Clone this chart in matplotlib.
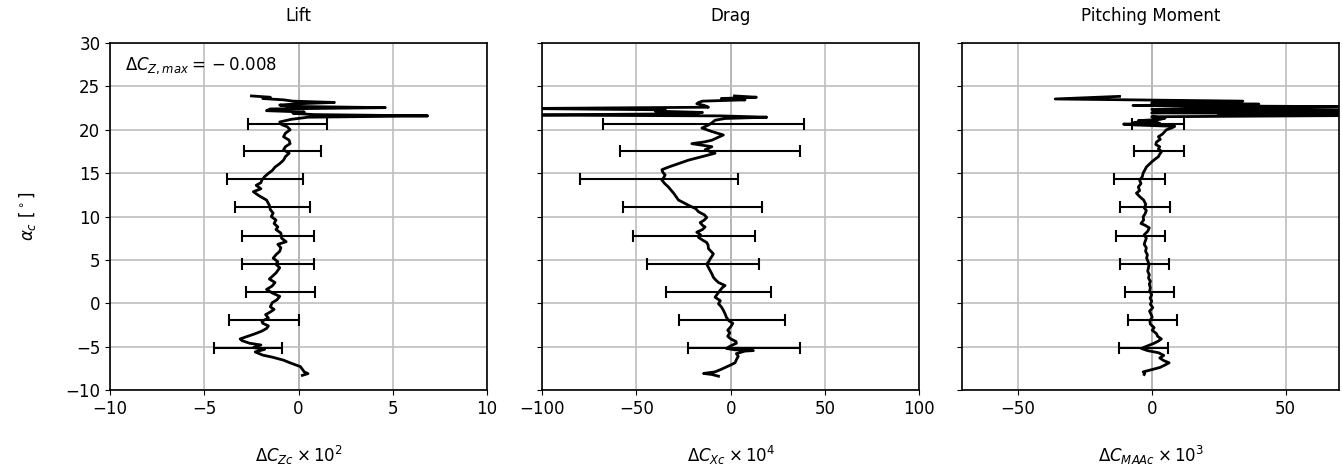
import numpy as np
import matplotlib
matplotlib.use("Agg")
import matplotlib.pyplot as plt

plt.rcParams['font.size'] = 12

# angle of attack and curves
lift_alpha = [-8.3, -8.1, -7.9, -7.6, -7.3, -6.9, -6.55, -6.2, -5.97, -5.6, -5.3, -5.1, -4.8, -4.6, -4.3,
              -4.1, -3.8, -3.5, -3.2, -2.9, -2.6, -2.3, -2.05, -1.7, -1.3, -1.0, -0.7, -0.4, 0.07, 0.4,
              0.8, 1.2, 1.6, 2.0, 2.4, 2.8, 3.1, 3.5, 4.1, 4.5, 4.8, 5.2, 5.6, 6.0, 6.4, 6.8, 7.1, 7.5,
              8.1, 8.5, 8.8, 9.2, 9.6, 10.0, 10.4, 10.8, 11.3, 11.9, 12.4, 12.86, 13.2, 13.6, 13.9, 14.2,
              14.6, 14.98, 15.3, 15.7, 16.1, 16.5, 16.9, 17.3, 17.7, 18.05, 18.4, 18.8, 19.2, 19.6, 20.0,
              20.35, 20.6, 20.9, 21.2, 21.45, 21.6, 21.75, 21.9, 22.05, 22.2, 22.4, 22.55, 22.7, 22.85,
              23.0, 23.15, 23.3, 23.45, 23.6, 23.75, 23.9]
lift_val = [0.2, 0.5, 0.3, 0.2, 0.1, -0.4, -0.8, -1.4, -1.9, -2.3, -1.8, -2.4, -2.0, -2.6, -3.0,
            -3.1, -2.7, -2.3, -1.95, -1.7, -1.6, -1.9, -1.95, -1.6, -1.75, -1.5, -1.3, -1.5, -1.4, -1.15,
            -1.0, -1.4, -1.7, -1.4, -1.25, -1.55, -1.4, -1.2, -1.0, -1.2, -1.1, -1.35, -1.2, -1.0, -0.94, -1.1, -0.66, -0.9,
            -0.94, -1.2, -1.1, -1.3, -1.2, -1.45, -1.35, -1.5, -1.55, -1.7, -2.1, -2.4, -2.0, -2.25, -2.0, -1.95,
            -1.8, -1.6, -1.4, -1.25, -1.0, -0.8, -0.7, -0.5, -0.8, -0.7, -0.45, -0.5, -0.8, -0.7, -0.45,
            -0.6, -0.9, -1.0, -0.4, 0.5, 6.85, 0.8, -0.3, 0.3, -1.7, -1.5, 4.6, -0.5, -1.0,
            0.0, 1.9, -0.3, -0.8, -1.9, -1.5, -2.5]

drag_alpha = [-8.4, -8.2, -8.08, -7.9, -7.6, -7.4, -7.1, -6.85, -6.5, -6.1, -5.8, -5.5, -5.45, -5.35, -5.2,
              -4.9, -4.6, -4.4, -4.1, -3.8, -3.4, -3.1, -2.7, -2.3, -2.0, -1.6, -1.2, -0.8, -0.4, -0.05,
              0.3, 0.7, 1.1, 1.5, 1.8, 2.05, 2.4, 2.7, 3.0, 3.4, 3.8, 4.2, 4.55, 4.85, 5.1, 5.4, 5.7,
              6.0, 6.3, 6.7, 7.0, 7.3, 7.6, 7.9, 8.2, 8.5, 8.8, 9.0, 9.3, 9.6, 9.9, 10.2, 10.55, 10.9,
              11.3, 11.6, 11.9, 12.3, 12.7, 13.0, 13.4, 13.8, 14.2, 14.5, 14.8, 15.1, 15.4, 15.7, 16.1,
              16.5, 16.9, 17.3, 17.5, 17.7, 18.05, 18.4, 18.6, 18.8, 19.1, 19.4, 19.6, 19.8, 20.2, 20.55,
              20.8, 21.1, 21.3, 21.45, 21.6, 21.7, 21.85, 22.0, 22.15, 22.3, 22.45, 22.6, 22.8, 23.0,
              23.15, 23.3, 23.45, 23.6, 23.75, 23.9]
drag_val = [-6.5, -10, -14.4, -8.3, -5, -3.0, 0, 2.3, 3, 4.0, 3, 7.6, 12, 2, -2.3,
            0, 3, 2.8, 0, -1.6, -0.5, -1.6, 0, 1.1, -1, -2.3, -3, -3.9, -5, -6.5,
            -5.5, -8.3, -7, -5.6, -4.5, -3.0, -6.5, -8, -9.2, -10, -11, -12, -12.7, -11.5, -11, -10, -9.2,
            -10.5, -11.8, -12, -12.7, -15, -17.1, -16, -18, -15, -13.6, -15, -16.2, -14, -12.7, -14, -17.1, -18.5,
            -22.4, -25, -27.7, -29, -30.3, -31.5, -33, -35, -36.5, -35.5, -34.8, -36, -36.5, -33, -27.7,
            -22.4, -15.3, -8.3, -11, -13.6, -10, -20.6, -14, -10, -7, -3.9, -7, -10, -15.3, -11.8,
            -10, -8.3, -3, 19.1, -5, -110, -20, -15, -40, -34.7, -110, -11.8, -14, -18,
            -17, -15, 7.6, -5, 13.6, 2]

pitch_alpha = [-8.2, -8.08, -7.9, -7.7, -7.4, -7.1, -6.85, -6.6, -6.3, -6.0, -5.7, -5.45, -5.2, -4.9, -4.6,
               -4.35, -4.1, -3.8, -3.5, -3.1, -2.8, -2.4, -2.0, -1.6, -1.3, -0.9, -0.5, -0.1, 0.25, 0.6,
               1.0, 1.4, 1.8, 2.2, 2.55, 2.9, 3.3, 3.7, 4.1, 4.5, 4.85, 5.2, 5.6, 6.0, 6.4, 6.8, 7.1, 7.5,
               7.9, 8.3, 8.7, 9.0, 9.2, 9.6, 9.97, 10.3, 10.7, 11.0, 11.4, 11.9, 12.3, 12.7, 13.0, 13.4,
               13.8, 14.2, 14.6, 15.0, 15.4, 15.7, 16.0, 16.3, 16.6, 16.9, 17.2, 17.5, 17.8, 18.05, 18.3,
               18.6, 18.9, 19.2, 19.5, 19.8, 20.0, 20.2, 20.4, 20.55, 20.65, 20.75, 20.85, 20.95, 21.05,
               21.2, 21.35, 21.5, 21.65, 21.75, 21.85, 21.95, 22.1, 22.25, 22.35, 22.5, 22.65, 22.8,
               22.95, 23.1, 23.3, 23.55, 23.85]
pitch_val = [-2.8, -2.6, -3.2, -0.7, 3, 5, 6.5, 4.5, 3, 4.5, 2.6, -1.5, -3.9, -1.5, 0.9,
             2.5, 3.6, 2.2, 1.8, 0.2, 0.9, -0.5, -0.7, 0.2, -0.2, -0.8, 0.4, -0.5, 0, -0.6,
             0, -0.8, -0.5, -0.9, -0.5, -1.2, -0.9, -1.5, -1.2, -1.0, -1.4, -1.9, -1.6, -2.3, -2.0, -2.8, -2.5, -2.0,
             -2.8, -1.5, -0.9, -2.5, -4.0, -3.0, -3.2, -2.5, -2.0, -2.8, -2.2, -3.0, -4.5, -5.7, -4.5, -5.0,
             -4.0, -4.5, -3.5, -3.2, -2.5, -2.0, -1.0, 0, 1.2, 2.5, 3.0, 3.7, 2.5, 3.0, 1.5,
             1.8, 3.2, 2.5, 4.0, 4.9, 5.5, 7.4, 8.6, -6, -10.5, 3, -6.5, 2, -5,
             3.2, 5, 0, 80, 25, 80, 0, 25, 80, 0, 20, 80, -7,
             40, 0, 34, -36, -12]

# error bars
eb_alpha = [-5.2, -1.95, 1.3, 4.55, 7.8, 11.05, 14.3, 17.5, 20.7]
lift_eb = [-2.68, -1.84, -0.96, -1.09, -1.11, -1.40, -1.78, -0.85, -0.61]
lift_err = [1.79, 1.84, 1.85, 1.89, 1.91, 1.99, 2.01, 2.05, 2.09]
drag_eb = [7.2, 0.8, -6.55, -14.55, -19.4, -20.3, -37.85, -11.15, -14.35]
drag_err = [29.7, 28.1, 27.85, 29.65, 32.4, 36.8, 41.95, 47.65, 53.15]
pitch_eb = [-3.1, 0.15, -0.9, -2.75, -4.2, -2.65, -4.6, 2.65, 2.4]
pitch_err = [9.2, 9.15, 9.2, 9.25, 9.3, 9.35, 9.5, 9.35, 9.6]

titles = ["Lift", "Drag", "Pitching Moment"]
xlabels = [r"$\Delta C_{Zc} \times 10^2$", r"$\Delta C_{Xc} \times 10^4$", r"$\Delta C_{MAAc} \times 10^3$"]
xlims = [(-10, 10), (-100, 100), (-70.7, 70)]
xticks = [[-10, -5, 0, 5, 10], [-100, -50, 0, 50, 100], [-50, 0, 50]]

fig = plt.figure(figsize=(13.42, 4.7), dpi=100)
lefts = [0.082, 0.404, 0.717]
axes = []
for i, l in enumerate(lefts):
    ax = fig.add_axes([l, 0.170, 0.281, 0.7385], sharey=axes[0] if axes else None)
    axes.append(ax)

curves = [(lift_alpha, lift_val, lift_eb, lift_err),
          (drag_alpha, drag_val, drag_eb, drag_err),
          (pitch_alpha, pitch_val, pitch_eb, pitch_err)]

for i, ax in enumerate(axes):
    a, v, c, e = curves[i]
    ax.grid(True, color='0.75', lw=1.2)
    ax.axvline(0, color='0.5', lw=1.2, zorder=1.5)
    ax.plot(v, a, color='k', lw=2, zorder=3)
    ax.errorbar(c, eb_alpha, xerr=e, fmt='none', ecolor='k', elinewidth=1.5,
                capsize=4, capthick=1.5, zorder=3)
    ax.set_xlim(*xlims[i])
    ax.set_xticks(xticks[i])
    ax.set_ylim(-10, 30)
    ax.set_yticks(np.arange(-10, 31, 5))
    ax.set_title(titles[i], fontsize=12, pad=16)
    ax.set_xlabel(xlabels[i], labelpad=19)
    for s in ax.spines.values():
        s.set_linewidth(1.2)
    if i > 0:
        ax.tick_params(labelleft=False)

axes[0].set_ylabel(r"$\alpha_c$ [$^\circ$]", labelpad=20)
axes[0].text(0.04, 0.934, r"$\Delta C_{Z,max} = {} - 0.008$", transform=axes[0].transAxes,
             va='center', ha='left', fontsize=12)

fig.savefig("out.png", dpi=100)
